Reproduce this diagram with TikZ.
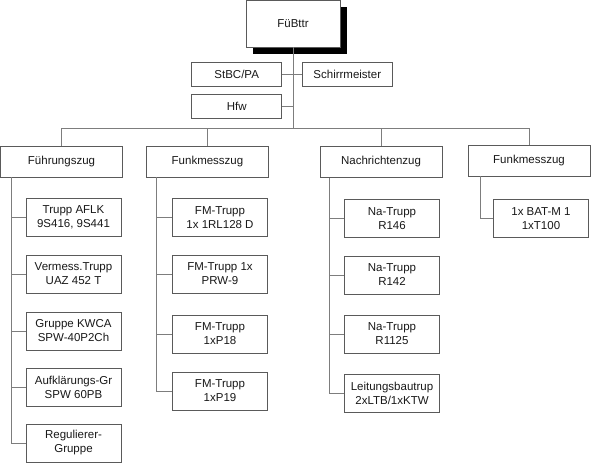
\documentclass[tikz,border=0pt]{standalone}
\usepackage{fontspec}
\setmainfont{Liberation Sans}
\usepackage{tikz}
\usetikzlibrary{shadows, positioning, calc}
\definecolor{mybox}{RGB}{90,90,90}
\definecolor{myline}{RGB}{125,125,125}
\definecolor{mytext}{RGB}{25,25,25}
\tikzset{
  unit/.style={rectangle, draw=mybox, fill=white, align=center,
    font=\fontsize{11.5}{14}\selectfont, text=mytext, line width=0.8pt,
    inner sep=0pt},
  chief/.style={unit, minimum width=94pt, minimum height=47pt,
    drop shadow={shadow xshift=7pt, shadow yshift=-7pt, fill=black, opacity=1}},
  staff/.style={unit, minimum width=90pt, minimum height=24pt},
  zug/.style={unit, minimum width=122pt, minimum height=31pt},
  trupp/.style={unit, minimum width=95pt, minimum height=38pt},
  line/.style={line width=0.8pt, color=myline}
}

\begin{document}
\begin{tikzpicture}[x=1pt, y=-1pt]
  \useasboundingbox (0,0) rectangle (591,463);

  % Command
  \node[chief] (top) at (293,23.5) {FüBttr};
  \node[staff] (stbc) at (236.7,74) {StBC/PA};
  \node[staff] (schirr) at (347.3,74) {Schirrmeister};
  \node[staff] (hfw) at (236.7,106) {Hfw};
  \coordinate (bus) at (293,128);

  % Platoons
  \node[zug] (fz) at (61.5,161.5) {Führungszug};
  \node[zug] (fm) at (207.5,161.5) {Funkmesszug};
  \node[zug] (nz) at (381,162) {Nachrichtenzug};
  \node[zug] (fmb) at (529,160.5) {Funkmesszug};

  % Fuehrungszug
  \node[trupp] (fz1) at (73.5,217) {Trupp AFLK\\9S416, 9S441};
  \node[trupp] (fz2) at (73.5,274) {Vermess.Trupp\\UAZ 452 T};
  \node[trupp] (fz3) at (73.5,331) {Gruppe KWCA\\SPW-40P2Ch};
  \node[trupp] (fz4) at (73.5,387) {Aufklärungs-Gr\\SPW 60PB};
  \node[trupp] (fz5) at (73.5,443) {Regulierer-\\Gruppe};

  % Funkmesszug
  \node[trupp] (fm1) at (220,217.5) {FM-Trupp\\1x 1RL128 D};
  \node[trupp] (fm2) at (220,274) {FM-Trupp 1x\\PRW-9};
  \node[trupp] (fm3) at (220,334) {FM-Trupp\\1xP18};
  \node[trupp] (fm4) at (220,391) {FM-Trupp\\1xP19};

  % Nachrichtenzug
  \node[trupp] (nz1) at (392,218.5) {Na-Trupp\\R146};
  \node[trupp] (nz2) at (392,275) {Na-Trupp\\R142};
  \node[trupp] (nz3) at (392,334) {Na-Trupp\\R1125};
  \node[trupp] (nz4) at (392,393) {Leitungsbautrup\\2xLTB/1xKTW};

  % Funkmesszug (2)
  \node[trupp] (fmb1) at (541,218.5) {1x BAT-M 1\\1xT100};

  % Lines
  \begin{scope}[on background layer/.try]
  \draw[line] (top.south) -- (bus);
  \draw[line] (stbc.east) -- (stbc.east -| top.south);
  \draw[line] (schirr.west) -- (schirr.west -| top.south);
  \draw[line] (hfw.east) -- (hfw.east -| top.south);
  \draw[line] (bus -| fz.north) -- (bus -| fmb.north);
  \foreach \z in {fz, fm, nz, fmb}
    \draw[line] (\z.north) -- (bus -| \z.north);
  \end{scope}

  \coordinate (fzt) at ([xshift=11pt]fz.south west);
  \coordinate (fmt) at ([xshift=10pt]fm.south west);
  \coordinate (nzt) at ([xshift=9.5pt]nz.south west);
  \coordinate (fmbt) at ([xshift=12.5pt]fmb.south west);
  \foreach \t in {1,...,5}
    \draw[line] (fzt) |- (fz\t.west);
  \foreach \t in {1,...,4}
    \draw[line] (fmt) |- (fm\t.west);
  \foreach \t in {1,...,4}
    \draw[line] (nzt) |- (nz\t.west);
  \draw[line] (fmbt) |- (fmb1.west);
\end{tikzpicture}
\end{document}
